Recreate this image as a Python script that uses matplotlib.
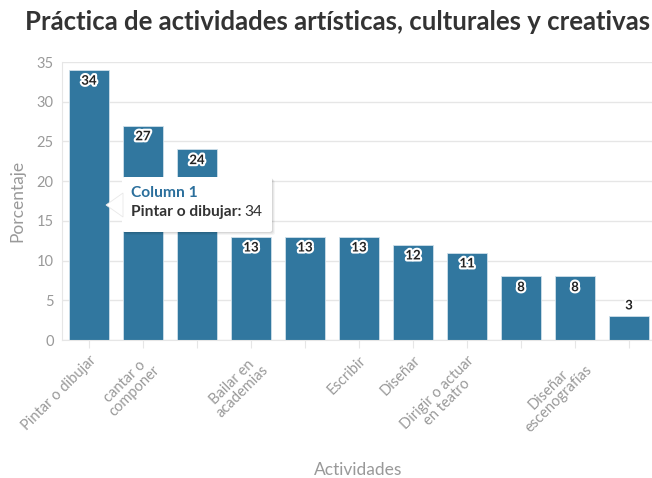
import matplotlib.pyplot as plt
import matplotlib.patheffects as pe
from matplotlib.patches import FancyBboxPatch, Polygon
import numpy as np

plt.rcParams['font.family'] = ['Lato', 'DejaVu Sans']

actividades = ['Pintar o dibujar', 'cantar o\ncomponer', '', 'Bailar en\nacademias', '',
               'Escribir', 'Diseñar', 'Dirigir o actuar\nen teatro', '', 'Diseñar\nescenografías', '']
porcentaje = [34, 27, 24, 13, 13, 13, 12, 11, 8, 8, 3]

BAR = '#31779f'
GRID = '#e6e6e6'
GREY = '#999999'

fig = plt.figure(figsize=(6.52, 4.78), dpi=100)
W, H = 652, 478
ax = fig.add_axes([62 / W, 1 - 340 / H, 594 / W, 278 / H])

x = np.arange(len(porcentaje))
bars = ax.bar(x, porcentaje, width=0.74, color=BAR, edgecolor='#cfe0ea', linewidth=0.6, zorder=2)

ax.set_xlim(-0.5, 10.5)
ax.set_ylim(0, 35)
ax.set_yticks(range(0, 36, 5))
ax.grid(axis='y', color=GRID, lw=1, zorder=0)
for s in ['top', 'right']:
    ax.spines[s].set_visible(False)
ax.spines['left'].set_color(GRID)
ax.spines['bottom'].set_color(GRID)
ax.tick_params(axis='y', length=0, labelsize=10.5, labelcolor=GREY, pad=6)
ax.tick_params(axis='x', length=6, color=GRID, labelsize=10.5, labelcolor=GREY)
ax.set_xticks(x)
ax.set_xticklabels(actividades, rotation=45, ha='right', rotation_mode='anchor',
                   linespacing=1.0, multialignment='center')
ax.set_ylabel('Porcentaje', fontsize=12.5, color=GREY, labelpad=8)

halo = [pe.withStroke(linewidth=3, foreground='white')]
for xi, v in zip(x, porcentaje):
    if v > 5:
        ax.text(xi, v - 0.6, f'{v}', ha='center', va='top', fontsize=9.5, fontweight='bold',
                color='#222222', path_effects=halo, zorder=4)
    else:
        ax.text(xi, v + 0.6, f'{v}', ha='center', va='bottom', fontsize=9.5, fontweight='bold',
                color='#222222', path_effects=halo, zorder=4)


def fx(px):
    return px / W


def fy(py):
    return 1 - py / H


fig.text(fx(338), fy(22), 'Práctica de actividades artísticas, culturales y creativas',
         ha='center', va='center', fontsize=18.5, fontweight='bold', color='#333333')
fig.text(fx(358), fy(470), 'Actividades', ha='center', va='center', fontsize=12.5, color=GREY)

# tooltip
for off, a in [(3, 0.04), (2, 0.05), (1, 0.07)]:
    fig.patches.append(FancyBboxPatch((fx(122 + off), fy(232 + off)), fx(150), 55 / H,
                                      boxstyle='round,pad=0,rounding_size=0.004',
                                      transform=fig.transFigure, fc='black', ec='none', alpha=a, zorder=5))
fig.patches.append(FancyBboxPatch((fx(122), fy(232)), fx(150), 55 / H,
                                  boxstyle='round,pad=0,rounding_size=0.004',
                                  transform=fig.transFigure, fc='white', ec='none', zorder=6))
fig.patches.append(Polygon([(fx(123), fy(193)), (fx(106), fy(205)), (fx(123), fy(217))],
                           closed=True, transform=fig.transFigure, fc='white', ec='#e8e8e8', lw=0.6, zorder=6))
fig.text(fx(131), fy(193), 'Column 1', ha='left', va='center', fontsize=11.2, fontweight='bold',
         color='#2b6f9c', zorder=7)
t = fig.text(fx(131), fy(212), 'Pintar o dibujar:', ha='left', va='center', fontsize=11.2,
             fontweight='bold', color='#333333', zorder=7)
fig.canvas.draw()
bb = t.get_window_extent()
fig.text(bb.x1 / fig.dpi / fig.get_figwidth() + 0.005, fy(212), '34', ha='left', va='center',
         fontsize=11.2, color='#333333', zorder=7)

fig.savefig('out.png', dpi=100)
